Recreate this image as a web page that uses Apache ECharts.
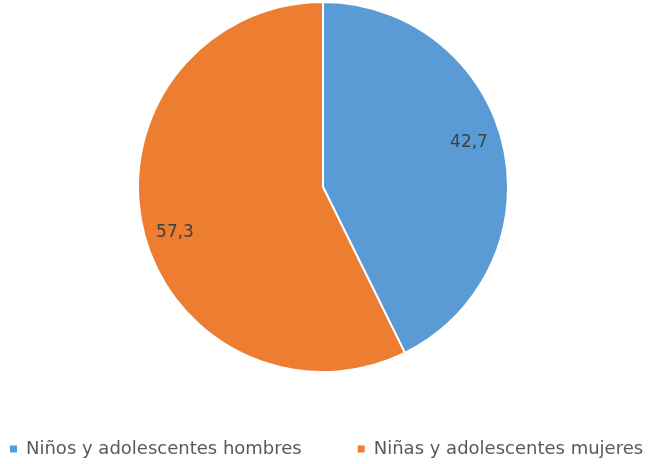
<!DOCTYPE html>
<html>
<head>
<meta charset="utf-8">
<script src="https://cdn.jsdelivr.net/npm/echarts@6/dist/echarts.min.js"></script>
<style>
  html, body { margin: 0; padding: 0; background: #fff; }
  #chart { width: 656px; height: 464px; }
</style>
</head>
<body>
<div id="chart"></div>
<script>
// Share of children and adolescents by sex (%)
const categories = ['Niños y adolescentes hombres', 'Niñas y adolescentes mujeres'];
const shares = [42.7, 57.3];
const colors = ['#5B9BD5', '#ED7D31'];
const labelOffsets = [[53, -23], [-55, 24]];

const chart = echarts.init(document.getElementById('chart'));
chart.setOption({
  animation: false,
  legend: {
    top: 435,
    left: 3,
    itemWidth: 9,
    itemHeight: 9,
    itemGap: 54,
    icon: 'rect',
    textStyle: { fontFamily: 'DejaVu Sans, sans-serif', fontSize: 18, color: '#595959', padding: [0, 0, 0, 3] },
    data: categories
  },
  series: [{
    type: 'pie',
    center: [323, 187],
    radius: [0, 185],
    startAngle: 90,
    clockwise: true,
    itemStyle: { borderColor: '#fff', borderWidth: 2 },
    label: {
      show: true,
      position: 'inside',
      fontFamily: 'DejaVu Sans, sans-serif',
      fontSize: 17,
      color: '#404040',
      formatter: p => p.value.toFixed(1).replace('.', ',')
    },
    labelLine: { show: false },
    emphasis: { disabled: true },
    data: categories.map((name, i) => ({
      name,
      value: shares[i],
      itemStyle: { color: colors[i] },
      label: { offset: labelOffsets[i] }
    }))
  }]
});
</script>
</body>
</html>
